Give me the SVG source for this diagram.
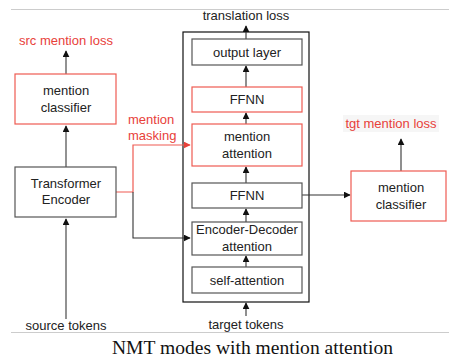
<svg xmlns="http://www.w3.org/2000/svg" width="449" height="363" viewBox="0 0 449 363">
<style>
.t{font-family:"Liberation Sans",Arial,sans-serif;font-size:13px;fill:#222;text-anchor:middle}
.r{fill:#e8413a}
.bx{fill:#fff;stroke:#555;stroke-width:1.2}
.rb{fill:#fff;stroke:#ef5b52;stroke-width:1.2}
.ln{fill:none;stroke:#333;stroke-width:1.1}
.lg{fill:none;stroke:#777;stroke-width:1.6}
.lr{fill:none;stroke:#ef5b52;stroke-width:1.2}
.cap{font-family:"Liberation Serif","Times New Roman",serif;font-size:18px;fill:#111;text-anchor:middle}
</style>
<defs>
<marker id="a" viewBox="0 0 10 10" refX="9" refY="5" markerWidth="7" markerHeight="7" markerUnits="userSpaceOnUse" orient="auto"><path d="M0,0 L10,5 L0,10 z" fill="#111"/></marker>
<marker id="ar" viewBox="0 0 10 10" refX="9" refY="5" markerWidth="7" markerHeight="7" markerUnits="userSpaceOnUse" orient="auto"><path d="M0,0 L10,5 L0,10 z" fill="#e8413a"/></marker>
</defs>
<rect width="449" height="363" fill="#fff"/>
<line x1="11" y1="9.5" x2="449" y2="9.5" stroke="#ccc" stroke-width="1"/>
<line x1="11" y1="332.5" x2="449" y2="332.5" stroke="#ccc" stroke-width="1"/>

<g id="decoder">
<rect x="183" y="32" width="126" height="270" fill="none" stroke="#111" stroke-width="1.2"/>
</g>

<g id="connectors">
<line class="lg" x1="66" y1="74" x2="66" y2="51" marker-end="url(#a)"/>
<line class="lg" x1="66" y1="167" x2="66" y2="126" marker-end="url(#a)"/>
<line class="lg" x1="66" y1="319" x2="66" y2="219" marker-end="url(#a)"/>
<polyline class="lr" points="116,192 133,192 133,145 190,145" marker-end="url(#ar)"/>
<polyline class="ln" points="133,192 133,238 190,238" marker-end="url(#a)"/>
<line class="ln" x1="246" y1="39" x2="246" y2="26" marker-end="url(#a)"/>
<line class="ln" x1="246" y1="87" x2="246" y2="66" marker-end="url(#a)"/>
<line class="ln" x1="246" y1="124" x2="246" y2="113" marker-end="url(#a)"/>
<line class="ln" x1="246" y1="183" x2="246" y2="167" marker-end="url(#a)"/>
<line class="ln" x1="246" y1="222" x2="246" y2="209" marker-end="url(#a)"/>
<line class="ln" x1="246" y1="267" x2="246" y2="256" marker-end="url(#a)"/>
<line class="ln" x1="246" y1="316" x2="246" y2="303" marker-end="url(#a)"/>
<line class="ln" x1="302" y1="195" x2="350" y2="195" marker-end="url(#a)"/>
<line class="ln" x1="401" y1="171" x2="401" y2="139" marker-end="url(#a)"/>
</g>

<g id="src-loss"><text class="t r" x="66" y="45">src mention loss</text></g>
<g id="src-classifier">
<rect class="rb" x="15" y="74" width="101" height="50"/>
<text class="t" x="66" y="95">mention</text>
<text class="t" x="66" y="112">classifier</text>
</g>
<g id="transformer-encoder">
<rect class="bx" x="15" y="167" width="101" height="50"/>
<text class="t" x="66" y="188">Transformer</text>
<text class="t" x="66" y="204">Encoder</text>
</g>
<g id="source-tokens"><text class="t" x="66" y="330">source tokens</text></g>
<g id="mention-masking">
<text class="t r" x="128" y="124" style="text-anchor:start">mention</text>
<text class="t r" x="128" y="140" style="text-anchor:start">masking</text>
</g>
<g id="translation-loss"><text class="t" x="246" y="20">translation loss</text></g>
<g id="output-layer">
<rect class="bx" x="192" y="39" width="110" height="26"/>
<text class="t" x="247" y="57">output layer</text>
</g>
<g id="ffnn-top">
<rect class="rb" x="192" y="87" width="110" height="25"/>
<text class="t" x="247" y="104">FFNN</text>
</g>
<g id="mention-attention">
<rect class="rb" x="192" y="124" width="110" height="42"/>
<text class="t" x="247" y="141">mention</text>
<text class="t" x="247" y="158">attention</text>
</g>
<g id="ffnn">
<rect class="bx" x="192" y="183" width="110" height="25"/>
<text class="t" x="247" y="200">FFNN</text>
</g>
<g id="enc-dec-attention">
<rect class="bx" x="192" y="222" width="110" height="33"/>
<text class="t" x="247" y="234">Encoder-Decoder</text>
<text class="t" x="247" y="251">attention</text>
</g>
<g id="self-attention">
<rect class="bx" x="192" y="267" width="110" height="26"/>
<text class="t" x="247" y="285">self-attention</text>
</g>
<g id="target-tokens"><text class="t" x="246" y="329">target tokens</text></g>
<g id="tgt-classifier">
<rect class="rb" x="351" y="171" width="95" height="50"/>
<text class="t" x="401" y="192">mention</text>
<text class="t" x="401" y="209">classifier</text>
</g>
<g id="tgt-loss">
<rect x="343" y="115" width="96" height="17" fill="#f6f6f6"/>
<text class="t r" x="391" y="128">tgt mention loss</text>
</g>
<text class="cap" x="252" y="354" textLength="281" lengthAdjust="spacingAndGlyphs" style="text-anchor:start" transform="translate(-140 0)">NMT modes with mention attention</text>
</svg>
